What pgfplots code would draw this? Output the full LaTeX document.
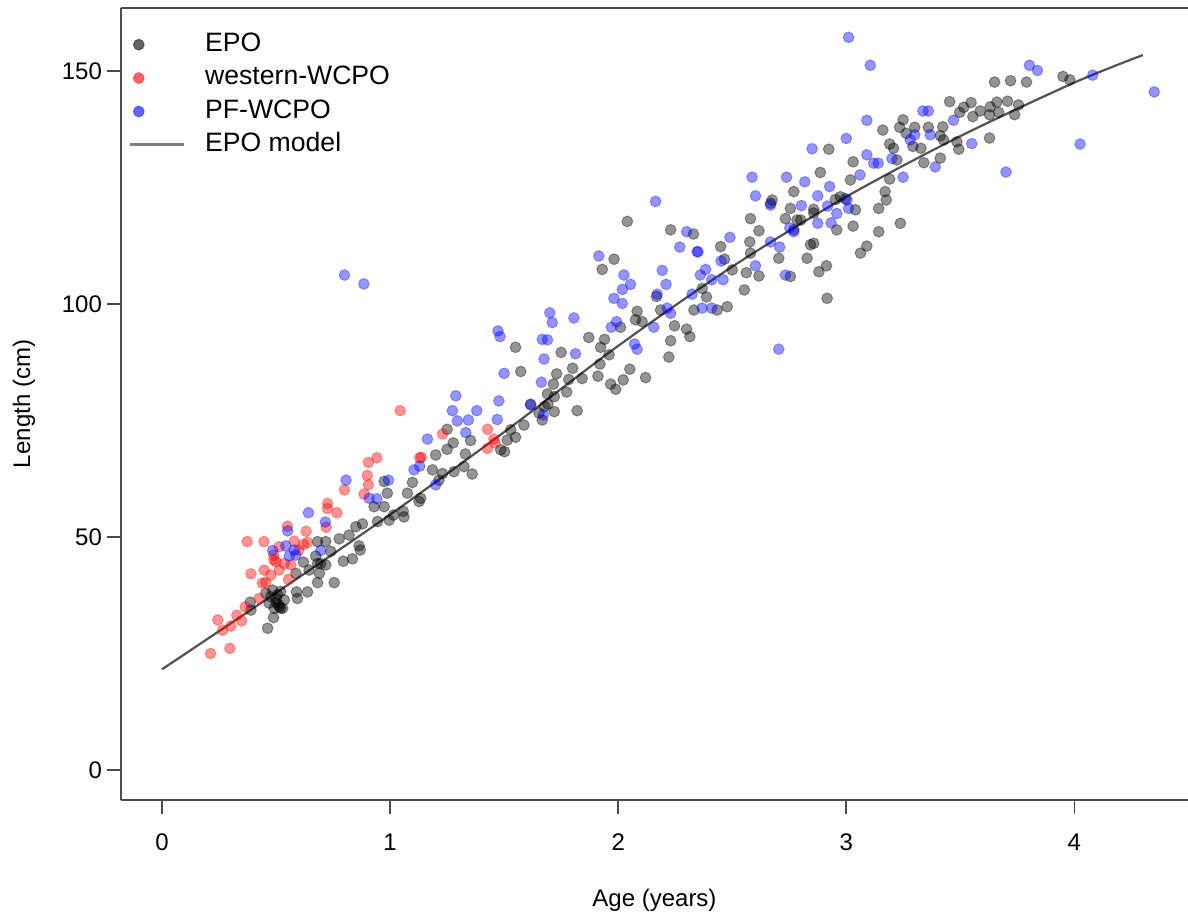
\documentclass[border=0pt]{standalone}
\usepackage{pgfplots}
\usepackage{pgfplotstable}
\pgfplotsset{compat=1.18}
\usepackage{fontspec}
\setmainfont{Liberation Sans}

\pgfplotstableread{
x y
0.463 30.4
0.489 32.7
0.520 34.7
0.387 36.0
0.390 34.3
0.455 37.9
0.594 36.8
0.638 38.2
0.682 40.2
0.755 40.2
0.587 42.2
0.645 42.9
0.690 42.2
0.620 44.6
0.696 44.3
0.674 45.9
0.682 49.0
0.718 49.0
0.740 46.9
0.777 49.6
0.795 44.8
0.835 45.3
0.820 50.4
0.850 52.2
0.879 52.8
0.864 48.1
0.869 47.2
0.945 53.3
0.974 56.5
0.988 59.4
0.974 61.9
0.930 56.5
0.996 53.6
1.058 55.5
1.061 54.3
1.076 59.4
1.098 61.7
1.127 57.6
1.015 54.7
0.500 36.8
0.485 38.6
0.520 38.3
0.536 36.5
0.470 35.8
0.492 34.7
0.529 34.7
0.507 37.6
0.477 37.2
0.510 35.5
0.500 36.0
0.515 35.0
0.590 38.2
0.718 44.0
0.682 44.3
1.250 73.1
1.277 70.2
1.250 68.8
1.200 67.6
1.186 64.4
1.230 63.6
1.214 62.2
1.134 58.3
1.353 70.7
1.330 67.8
1.324 65.1
1.360 63.5
1.280 64.0
1.529 73.0
1.550 71.4
1.514 70.8
1.502 68.3
1.485 68.7
1.587 74.0
1.653 76.6
1.667 75.1
1.616 78.5
1.690 80.7
1.720 80.1
1.677 78.0
1.692 78.5
1.720 76.9
1.774 81.1
1.820 77.1
1.730 85.0
1.716 82.8
1.800 86.2
1.783 83.8
1.842 84.0
1.920 87.1
1.911 84.5
1.967 82.8
1.989 81.7
2.022 83.7
2.051 86.0
2.120 84.2
1.960 89.1
1.923 90.7
1.940 92.4
1.871 92.8
1.750 89.6
1.573 85.5
1.550 90.7
1.930 107.4
1.982 109.6
2.010 95.0
2.083 98.4
2.076 96.6
2.105 96.2
2.168 101.6
2.186 98.7
2.247 95.3
2.230 92.1
2.222 88.6
2.300 94.6
2.314 93.0
2.332 98.7
2.040 117.7
2.230 115.9
2.330 115.0
2.449 112.3
2.466 109.6
2.500 107.3
2.562 106.7
2.580 110.9
2.577 113.3
2.617 115.7
2.580 118.3
2.617 106.0
2.553 103.0
2.478 99.4
2.434 98.7
2.387 101.5
2.368 103.3
2.675 122.3
2.668 121.6
2.733 118.3
2.755 120.5
2.784 118.0
2.770 124.1
2.770 115.9
2.704 109.8
2.755 105.9
2.828 109.8
2.843 112.7
2.857 113.0
2.880 106.9
2.913 108.2
2.916 101.2
2.886 128.2
2.857 120.3
2.958 115.9
3.030 116.7
3.062 110.9
3.090 112.4
3.030 130.5
3.018 126.6
2.974 123.0
2.996 122.6
3.142 120.5
3.142 115.5
2.923 133.2
2.952 122.4
3.650 147.6
3.720 147.9
3.790 147.6
3.950 148.8
3.980 148.1
3.453 143.4
3.515 142.2
3.547 143.2
3.497 141.1
3.555 140.2
3.587 141.4
3.631 142.3
3.660 143.3
3.707 143.5
3.755 142.7
3.628 140.6
3.668 141.1
3.738 140.6
3.628 135.6
3.249 139.5
3.234 137.9
3.300 137.9
3.360 137.9
3.423 138.0
3.263 136.6
3.292 133.8
3.327 133.4
3.412 136.1
3.426 135.2
3.485 134.8
3.493 133.2
3.412 131.3
3.340 130.3
3.160 137.3
3.190 134.3
3.207 133.4
3.222 130.9
3.190 126.8
3.170 124.1
3.175 122.3
3.237 117.3
3.040 120.2
2.857 119.5
2.800 118.0
}\epo

\pgfplotstableread{
x y
1.044 77.1
0.942 67.0
0.905 66.0
0.900 63.2
0.905 61.2
0.800 60.1
0.886 59.2
0.726 57.2
0.726 56.1
0.767 55.2
0.550 52.3
0.632 51.2
0.720 52.1
0.374 49.0
0.447 49.0
0.638 48.8
0.580 49.1
0.514 47.9
0.490 46.1
0.490 45.1
0.536 44.3
0.565 44.0
0.390 42.1
0.448 42.9
0.477 41.8
0.514 42.9
0.440 40.1
0.455 40.2
0.555 40.9
0.426 36.8
0.365 35.0
0.328 33.2
0.349 32.0
0.245 32.2
0.266 30.0
0.302 30.9
0.213 25.0
0.298 26.1
1.130 67.0
1.230 72.1
1.137 67.1
1.427 73.1
1.460 70.2
1.427 69.0
1.455 71.0
0.500 44.7
0.600 47.2
0.620 48.4
}\wwcpo

\pgfplotstableread{
x y
0.807 62.2
0.993 62.2
0.642 55.2
0.716 53.2
0.908 58.3
0.942 58.2
0.551 51.3
0.543 48.1
0.485 47.1
0.580 47.2
0.558 45.9
0.587 46.1
0.696 47.1
1.105 64.4
1.130 65.2
0.800 106.2
0.885 104.3
1.915 110.3
2.025 106.2
2.054 104.2
2.018 103.1
1.981 101.2
2.018 100.1
2.193 107.2
2.210 104.2
2.171 102.1
2.324 102.1
2.346 111.2
2.215 99.1
2.230 98.0
2.156 95.0
1.993 96.2
1.970 95.0
2.072 91.4
2.083 90.3
1.700 98.1
1.711 96.0
1.806 97.0
1.473 94.2
1.482 93.0
1.667 92.4
1.690 92.3
1.675 88.2
1.813 89.3
1.500 85.1
1.663 83.2
1.616 78.3
1.672 76.2
1.288 80.3
1.273 77.1
1.380 77.1
1.295 74.9
1.343 75.1
1.477 79.2
1.470 75.2
1.164 71.0
1.332 72.4
1.200 61.2
2.164 122.0
2.587 127.2
2.738 127.2
2.818 126.2
2.927 125.2
2.602 123.2
2.668 121.2
2.875 123.2
2.803 121.1
2.918 121.0
2.958 119.4
2.933 117.4
2.875 117.3
3.003 122.3
3.010 120.5
3.060 127.7
3.090 132.0
3.120 130.2
3.140 130.2
2.300 115.5
2.270 112.2
2.350 111.2
2.490 114.3
2.451 109.2
2.383 107.4
2.360 106.2
2.410 105.2
2.460 105.2
2.668 113.3
2.708 112.2
2.602 108.2
2.752 116.3
2.770 115.5
2.733 106.2
2.704 90.3
2.368 99.1
2.410 99.1
3.010 157.2
3.105 151.2
3.803 151.2
3.838 150.1
4.080 149.1
4.350 145.5
4.025 134.3
3.700 128.3
3.336 141.4
3.360 141.4
3.470 139.4
3.368 136.3
3.300 136.3
3.280 135.2
3.550 134.4
3.390 129.4
3.249 127.2
3.090 139.4
3.000 135.5
2.850 133.3
3.200 131.2
}\pfwcpo

\pgfplotstableread{
x y
0.0 21.6
0.5 38.0
1.0 54.8
1.5 72.5
2.0 91.0
2.5 108.0
3.0 123.0
3.5 136.0
4.0 147.5
4.3 153.4
}\model

\begin{document}
\begin{tikzpicture}
\useasboundingbox (-60.5pt,-57.5pt) rectangle (533.5pt,400pt);
\begin{axis}[
  at={(0pt,0pt)}, anchor=south west,
  scale only axis, width=533.5pt, height=396pt,
  xmin=-0.1796, xmax=4.498, ymin=-6.44, ymax=163.5,
  axis x line*=box, axis y line*=left,
  xtick pos=lower, ytick pos=left,
  axis line style={black!70, line width=0.9pt},
  tick style={black!70, line width=0.9pt},
  tick align=outside, major tick length=7pt,
  xtick={0,1,2,3,4}, ytick={0,50,100,150},
  /pgf/number format/assume math mode=true,
  tick label style={font=\fontsize{12}{14}\selectfont},
  xticklabel style={anchor=center, yshift=-14pt},
  yticklabel style={anchor=east, xshift=1pt},
  xlabel={Age (years)}, ylabel={Length (cm)},
  label style={font=\fontsize{12}{14}\selectfont},
  xlabel style={at={(axis description cs:0.5,-0.1263)}, anchor=center},
  ylabel style={at={(axis description cs:-0.0909,0.5)}, anchor=center},
  legend cell align=left,
  legend style={at={(axis description cs:0,1)}, anchor=north west,
    xshift=3.5pt, yshift=-12pt, draw=none, fill=none, inner sep=0pt,
    column sep=10pt, row sep=4.4pt,
    font=\fontsize{13.3}{16}\selectfont,
    nodes={inner sep=0pt, text height=9.6pt, text depth=2.7pt}},
  legend image code/.code={\path[draw=none,fill=none] (-4.5pt,0pt) -- (22.5pt,0pt);
    \draw[#1, every mark/.append style={fill opacity=0.6, draw opacity=0.45}] plot coordinates {(0pt,0pt)};},
]
\addplot[only marks, mark=*, mark size=2.7pt,
  mark options={draw=black, fill=black, draw opacity=0.35, fill opacity=0.42, line width=0.5pt}]
  table[x=x,y=y]{\epo};
\addlegendentry{EPO}
\addplot[only marks, mark=*, mark size=2.7pt,
  mark options={draw=red, fill=red, draw opacity=0.3, fill opacity=0.42, line width=0.5pt}]
  table[x=x,y=y]{\wwcpo};
\addlegendentry{western-WCPO}
\addplot[only marks, mark=*, mark size=2.7pt,
  mark options={draw=blue, fill=blue, draw opacity=0.3, fill opacity=0.42, line width=0.5pt}]
  table[x=x,y=y]{\pfwcpo};
\addlegendentry{PF-WCPO}
\addplot[smooth, black!68, line width=1.1pt,
  legend image code/.code={\draw[black!50, line width=1.4pt] (-4.5pt,0pt) -- (22.5pt,0pt);}]
  table[x=x,y=y]{\model};
\addlegendentry{EPO model}
\end{axis}
\end{tikzpicture}
\end{document}
